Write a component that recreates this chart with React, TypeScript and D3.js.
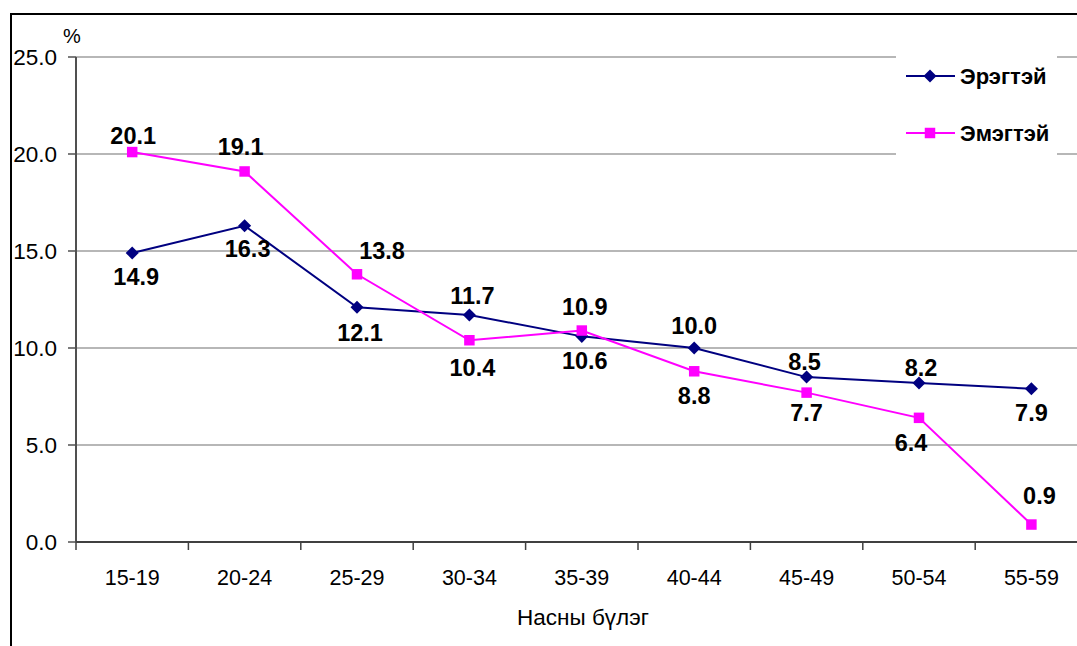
import React from "react";
import * as d3 from "d3";

const categories = ["15-19", "20-24", "25-29", "30-34", "35-39", "40-44", "45-49", "50-54", "55-59"];
const maleValues = [14.9, 16.3, 12.1, 11.7, 10.6, 10.0, 8.5, 8.2, 7.9];
const femaleValues = [20.1, 19.1, 13.8, 10.4, 10.9, 8.8, 7.7, 6.4, 0.9];
const yTicks = [0, 5, 10, 15, 20, 25];
const seriesNames = ["Эрэгтэй", "Эмэгтэй"];
const xTitle = "Насны бүлэг";
const yUnit = "%";

// label placement offsets (dx, dy) relative to the point
const maleLabelOffsets: [number, number][] = [[4, 24], [3, 23], [3, 26], [3, -19], [3, 24], [0, -22], [-2, -15], [2, -15], [0, 24]];
const femaleLabelOffsets: [number, number][] = [[1, -16], [-4, -25], [25, -24], [3, 28], [3, -24], [0, 24], [0, 20], [-8, 25], [8, -29]];

const W = 1077;
const H = 646;
const left = 76;
const top = 57;
const bottom = 542;
const band = 112.4;
const right = left + band * categories.length;

const BLUE = "#000080";
const PINK = "#FF00FF";
const FONT = "Arial, 'Liberation Sans', sans-serif";

export default function App() {
  const x = d3.scaleBand<string>().domain(categories).range([left, right]).paddingInner(0).paddingOuter(0);
  const y = d3.scaleLinear().domain([0, 25]).range([bottom, top]);
  const cx = (c: string) => (x(c) as number) + x.bandwidth() / 2;

  const line = d3
    .line<number>()
    .x((_, i) => cx(categories[i]))
    .y((v) => y(v));

  const diamond = d3.symbol().type(d3.symbolSquare).size(85)();
  const square = d3.symbol().type(d3.symbolSquare).size(110)();

  const legendX = 906;
  const legendYs = [76, 133];

  return (
    <svg
      width={W}
      height={H}
      style={{ position: "absolute", left: 0, top: 0, overflow: "hidden", background: "#fff" }}
      fontFamily={FONT}
    >
      <rect x={0} y={0} width={W} height={H} fill="#fff" />
      {/* outer frame */}
      <rect x={11} y={14} width={W + 50} height={H + 50} fill="none" stroke="#000" strokeWidth={2} />

      {/* gridlines */}
      {yTicks.filter((t) => t > 0).map((t) => (
        <line key={t} x1={left} x2={right} y1={y(t)} y2={y(t)} stroke="#707070" strokeWidth={1.2} />
      ))}

      {/* y axis */}
      <line x1={left} x2={left} y1={top} y2={bottom} stroke="#505050" strokeWidth={2} />
      {yTicks.map((t) => (
        <g key={t}>
          <line x1={left - 8} x2={left} y1={y(t)} y2={y(t)} stroke="#505050" strokeWidth={1.5} />
          <text x={57} y={y(t)} dy="0.35em" textAnchor="end" fontSize={22.5} fill="#000">
            {t.toFixed(1)}
          </text>
        </g>
      ))}
      <text x={72} y={36} dy="0.35em" textAnchor="middle" fontSize={20} fill="#000">
        {yUnit}
      </text>

      {/* x axis */}
      <line x1={left} x2={right} y1={bottom} y2={bottom} stroke="#404040" strokeWidth={2} />
      {categories.map((c, i) => (
        <g key={c}>
          <line x1={(x(c) as number) + band} x2={(x(c) as number) + band} y1={bottom} y2={bottom + 8} stroke="#404040" strokeWidth={1.5} />
          {i === 0 && <line x1={left} x2={left} y1={bottom} y2={bottom + 8} stroke="#404040" strokeWidth={1.5} />}
          <text x={cx(c)} y={577} dy="0.35em" textAnchor="middle" fontSize={21.5} fill="#000">
            {c}
          </text>
        </g>
      ))}
      <text x={583} y={617} dy="0.35em" textAnchor="middle" fontSize={22.5} fill="#000">
        {xTitle}
      </text>

      {/* legend background */}
      <rect x={896} y={45} width={161} height={122} fill="#fff" />

      {/* series lines */}
      <path d={line(maleValues) ?? ""} fill="none" stroke={BLUE} strokeWidth={2} />
      <path d={line(femaleValues) ?? ""} fill="none" stroke={PINK} strokeWidth={2} />

      {maleValues.map((v, i) => (
        <path key={"m" + i} d={diamond ?? ""} transform={`translate(${cx(categories[i])},${y(v)}) rotate(45)`} fill={BLUE} />
      ))}
      {femaleValues.map((v, i) => (
        <path key={"f" + i} d={square ?? ""} transform={`translate(${cx(categories[i])},${y(v)})`} fill={PINK} />
      ))}

      {/* data labels */}
      {maleValues.map((v, i) => (
        <text
          key={"ml" + i}
          x={cx(categories[i]) + maleLabelOffsets[i][0]}
          y={y(v) + maleLabelOffsets[i][1]}
          dy="0.35em"
          textAnchor="middle"
          fontSize={23.5}
          fontWeight="bold"
          fill="#000"
        >
          {v.toFixed(1)}
        </text>
      ))}
      {femaleValues.map((v, i) => (
        <text
          key={"fl" + i}
          x={cx(categories[i]) + femaleLabelOffsets[i][0]}
          y={y(v) + femaleLabelOffsets[i][1]}
          dy="0.35em"
          textAnchor="middle"
          fontSize={23.5}
          fontWeight="bold"
          fill="#000"
        >
          {v.toFixed(1)}
        </text>
      ))}

      {/* legend */}
      {seriesNames.map((name, i) => (
        <g key={name}>
          <line x1={legendX} x2={legendX + 49} y1={legendYs[i]} y2={legendYs[i]} stroke={i === 0 ? BLUE : PINK} strokeWidth={2} />
          <path
            d={(i === 0 ? diamond : square) ?? ""}
            transform={`translate(${legendX + 24},${legendYs[i]})${i === 0 ? " rotate(45)" : ""}`}
            fill={i === 0 ? BLUE : PINK}
          />
          <text x={960} y={legendYs[i]} dy="0.35em" fontSize={22} fontWeight="bold" fill="#000">
            {name}
          </text>
        </g>
      ))}
    </svg>
  );
}
